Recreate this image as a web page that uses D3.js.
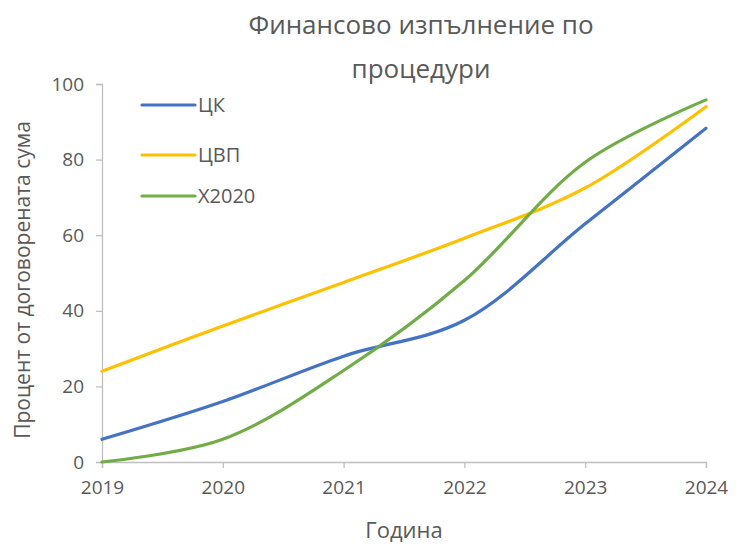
<!DOCTYPE html>
<html>
<head>
<meta charset="utf-8">
<script src="https://cdn.jsdelivr.net/npm/d3@7"></script>
<style>
  body { margin: 0; background: #fff; }
  svg { display: block; }
</style>
</head>
<body>
<script>
// chart data
var years = [2019, 2020, 2021, 2022, 2023, 2024];
var seriesNames = ["ЦК", "ЦВП", "Х2020"];
var ck = [6, 16, 28, 37.5, 63, 88.3];
var cvp = [24, 36, 47.5, 59.2, 72.5, 94];
var x2020 = [0, 6, 24.2, 48, 79.3, 95.8];
var yTicks = [0, 20, 40, 60, 80, 100];
var colors = ["#4472C4", "#FFC000", "#70AD47"];

var width = 736, height = 544;
var font = "'Open Sans', sans-serif";
var textColor = "#595959";

var svg = d3.select("body").append("svg")
    .attr("width", width)
    .attr("height", height);

var x = d3.scaleLinear().domain([2019, 2024]).range([102, 706]);
var y = d3.scaleLinear().domain([0, 100]).range([462, 84]);

// axes
var xAxis = svg.append("g")
    .attr("transform", "translate(0," + y(0) + ")")
    .call(d3.axisBottom(x).tickValues(years).tickFormat(d3.format("d")).tickSize(6).tickPadding(13));
var yAxis = svg.append("g")
    .attr("transform", "translate(" + x(2019) + ",0)")
    .call(d3.axisLeft(y).tickValues(yTicks).tickSize(6).tickPadding(12));

[xAxis, yAxis].forEach(function (g) {
    g.select(".domain").attr("stroke", "#bfbfbf").attr("stroke-width", 1.3);
    g.selectAll(".tick line").attr("stroke", "#bfbfbf").attr("stroke-width", 1.3);
    g.selectAll(".tick text")
        .attr("fill", textColor)
        .style("font-family", font)
        .style("font-size", "19px");
});

// lines
var data = [ck, cvp, x2020];
var line = d3.line()
    .x(function (d, i) { return x(years[i]); })
    .y(function (d) { return y(d); })
    .curve(d3.curveCatmullRom.alpha(0.5));

svg.selectAll(".series")
    .data(data)
    .enter().append("path")
    .attr("class", "series")
    .attr("d", line)
    .attr("fill", "none")
    .attr("stroke", function (d, i) { return colors[i]; })
    .attr("stroke-width", 3.2)
    .attr("stroke-linecap", "round");

// title
svg.append("text")
    .attr("x", 421)
    .attr("y", 34)
    .style("text-anchor", "middle")
    .attr("font-family", font)
    .attr("font-size", "26px")
    .attr("fill", textColor)
    .text("Финансово изпълнение по");
svg.append("text")
    .attr("x", 421)
    .attr("y", 78)
    .style("text-anchor", "middle")
    .attr("font-family", font)
    .attr("font-size", "26px")
    .attr("fill", textColor)
    .text("процедури");

// legend
var legendY = [105, 155, 196];
seriesNames.forEach(function (name, i) {
    svg.append("line")
        .attr("x1", 142).attr("x2", 195)
        .attr("y1", legendY[i]).attr("y2", legendY[i])
        .attr("stroke", colors[i])
        .attr("stroke-width", 3.2)
        .attr("stroke-linecap", "round");
    svg.append("text")
        .attr("x", 198)
        .attr("y", legendY[i])
        .attr("dy", "0.35em")
        .attr("font-family", font)
        .attr("font-size", "20px")
        .attr("fill", textColor)
        .text(name);
});

// axis titles
svg.append("text")
    .attr("x", 404)
    .attr("y", 538)
    .style("text-anchor", "middle")
    .attr("font-family", font)
    .attr("font-size", "22px")
    .attr("fill", textColor)
    .text("Година");
svg.append("text")
    .attr("transform", "translate(30,280) rotate(-90)")
    .style("text-anchor", "middle")
    .attr("font-family", font)
    .attr("font-size", "21px")
    .attr("fill", textColor)
    .text("Процент от договорената сума");
</script>
</body>
</html>
